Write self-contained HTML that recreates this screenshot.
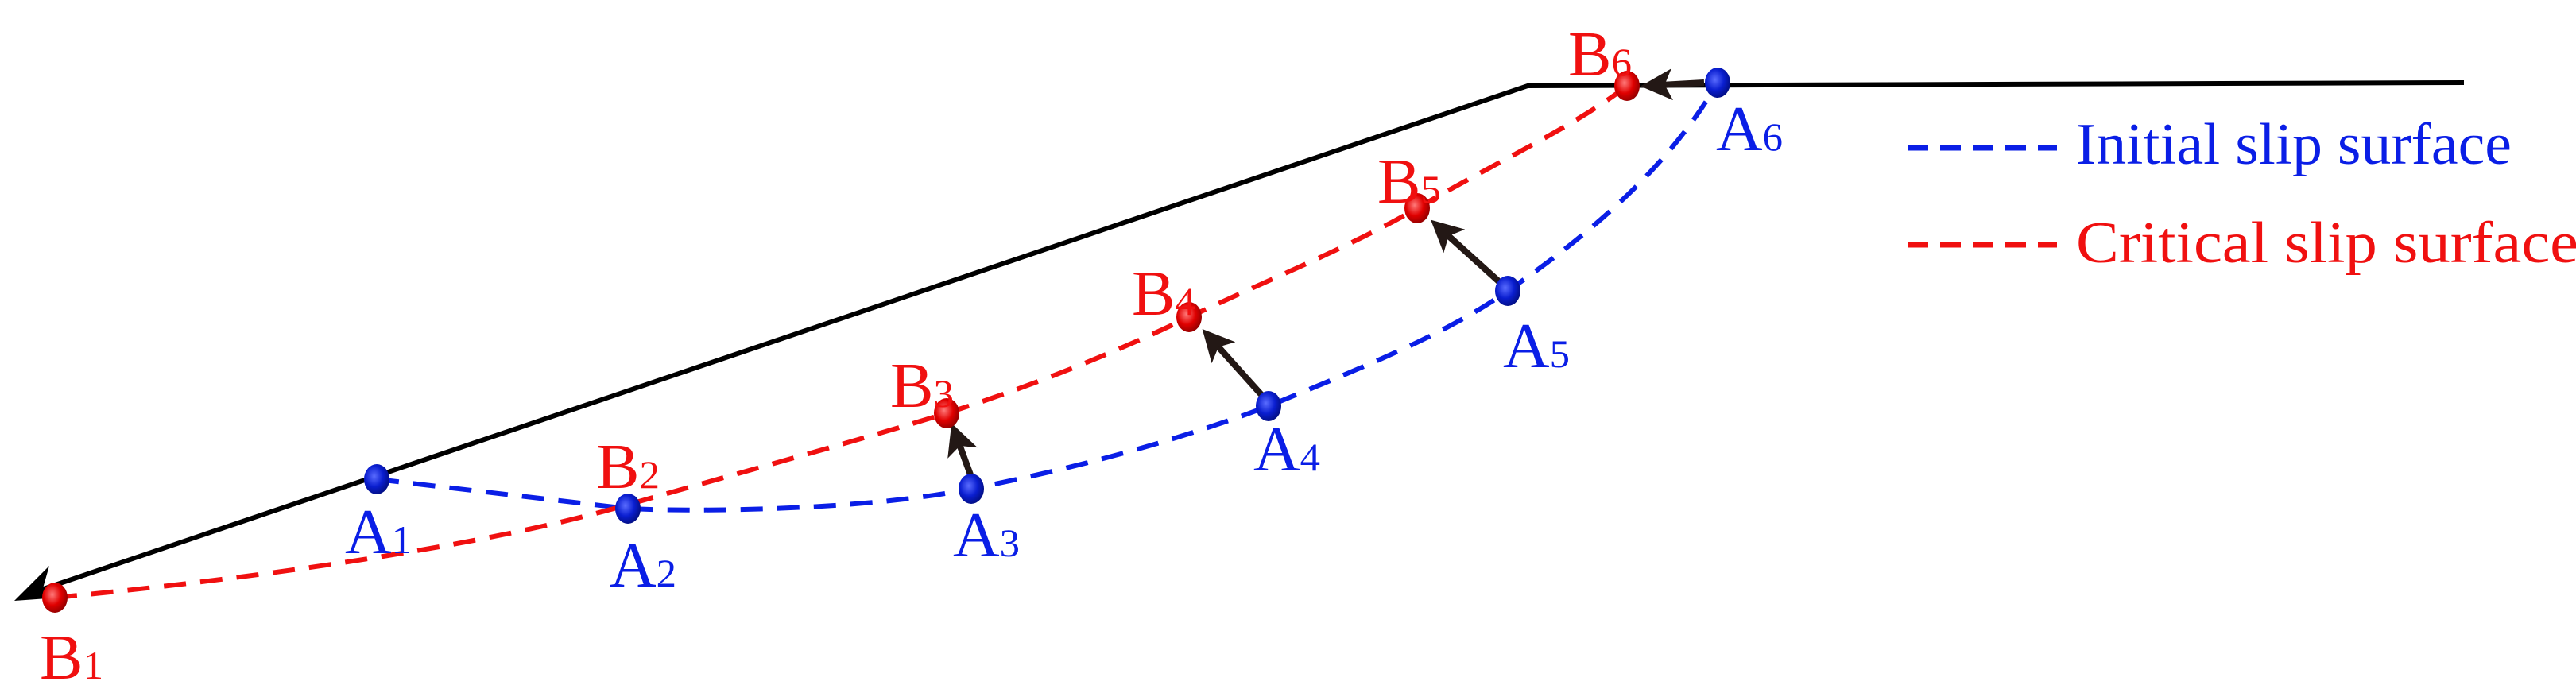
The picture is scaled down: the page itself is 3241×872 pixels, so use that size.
<!DOCTYPE html>
<html><head><meta charset="utf-8"><style>
html,body{margin:0;padding:0;background:#fff;}
svg{display:block}
text{font-family:"Liberation Serif","Times New Roman",serif;}
</style></head><body>
<svg width="3241" height="872" viewBox="0 0 3241 872" xmlns="http://www.w3.org/2000/svg">
<defs>
<marker id="ah" markerWidth="5" markerHeight="5" refX="4" refY="2.5" orient="auto" markerUnits="strokeWidth">
<path d="M0,0 L5,2.5 L0,5 L1.2,2.5 z" fill="#231815"/>
</marker>
<radialGradient id="gb" cx="0.4" cy="0.4" r="0.7"><stop offset="0" stop-color="#5a6cff"/><stop offset="0.5" stop-color="#0a1ed0"/><stop offset="1" stop-color="#000a70"/></radialGradient>
<radialGradient id="gr" cx="0.4" cy="0.4" r="0.7"><stop offset="0" stop-color="#ff7a7a"/><stop offset="0.5" stop-color="#e00000"/><stop offset="1" stop-color="#800000"/></radialGradient>
</defs>
<polyline points="3100,104 1922,108 40,746" fill="none" stroke="#000" stroke-width="6"/>
<path d="M18,756 L62,712 L54,740 L74,752 z" fill="#000"/>
<path d="M474,603 L790,640 C900,645 1100,640 1222,615 C1350,590 1480,555 1596,511 C1720,460 1820,420 1897,366 C2000,295 2100,210 2161,104" fill="none" stroke="#0a1ee6" stroke-width="6" stroke-dasharray="28,18"/>
<path d="M69,752 C300,730 600,690 790,635 C930,595 1060,560 1191,520 C1300,485 1400,445 1496,399 C1600,350 1700,310 1783,262 C1880,205 1980,160 2047,108" fill="none" stroke="#f01010" stroke-width="6" stroke-dasharray="28,18"/>
<g stroke="#231815" stroke-width="8" fill="none" marker-end="url(#ah)">
<line x1="1222" y1="600" x2="1200" y2="540"/>
<line x1="1590" y1="500" x2="1518" y2="420"/>
<line x1="1890" y1="358" x2="1806" y2="282"/>
<line x1="2144" y1="104" x2="2072" y2="108"/>
</g>
<g fill="url(#gb)">
<ellipse cx="474" cy="603" rx="16" ry="19"/>
<ellipse cx="790" cy="640" rx="16" ry="19"/>
<ellipse cx="1222" cy="615" rx="16" ry="19"/>
<ellipse cx="1596" cy="511" rx="16" ry="19"/>
<ellipse cx="1897" cy="366" rx="16" ry="19"/>
<ellipse cx="2161" cy="104" rx="16" ry="19"/>
</g>
<g fill="url(#gr)">
<ellipse cx="69" cy="752" rx="16" ry="19"/>
<ellipse cx="790" cy="636" rx="0" ry="0"/>
<ellipse cx="1191" cy="520" rx="16" ry="19"/>
<ellipse cx="1496" cy="399" rx="16" ry="19"/>
<ellipse cx="1783" cy="262" rx="16" ry="19"/>
<ellipse cx="2047" cy="108" rx="16" ry="19"/>
</g>
<g fill="#0a1ee6" font-size="80">
<text x="434" y="696" textLength="84" lengthAdjust="spacingAndGlyphs">A<tspan font-size="50">1</tspan></text>
<text x="767" y="738" textLength="84" lengthAdjust="spacingAndGlyphs">A<tspan font-size="50">2</tspan></text>
<text x="1199" y="700" textLength="84" lengthAdjust="spacingAndGlyphs">A<tspan font-size="50">3</tspan></text>
<text x="1577" y="592" textLength="84" lengthAdjust="spacingAndGlyphs">A<tspan font-size="50">4</tspan></text>
<text x="1891" y="462" textLength="84" lengthAdjust="spacingAndGlyphs">A<tspan font-size="50">5</tspan></text>
<text x="2159" y="189" textLength="84" lengthAdjust="spacingAndGlyphs">A<tspan font-size="50">6</tspan></text>
</g>
<g fill="#f01010" font-size="80">
<text x="50" y="854" textLength="80" lengthAdjust="spacingAndGlyphs">B<tspan font-size="50">1</tspan></text>
<text x="750" y="614" textLength="80" lengthAdjust="spacingAndGlyphs">B<tspan font-size="50">2</tspan></text>
<text x="1120" y="512" textLength="80" lengthAdjust="spacingAndGlyphs">B<tspan font-size="50">3</tspan></text>
<text x="1424" y="396" textLength="80" lengthAdjust="spacingAndGlyphs">B<tspan font-size="50">4</tspan></text>
<text x="1733" y="255" textLength="80" lengthAdjust="spacingAndGlyphs">B<tspan font-size="50">5</tspan></text>
<text x="1973" y="95" textLength="80" lengthAdjust="spacingAndGlyphs">B<tspan font-size="50">6</tspan></text>
</g>
<line x1="2400" y1="186" x2="2588" y2="186" stroke="#0a1ee6" stroke-width="7" stroke-dasharray="26,15"/>
<text x="2612" y="206" font-size="74" fill="#0a1ee6" textLength="548" lengthAdjust="spacingAndGlyphs">Initial slip surface</text>
<line x1="2400" y1="308" x2="2588" y2="308" stroke="#f01010" stroke-width="7" stroke-dasharray="26,15"/>
<text x="2612" y="330" font-size="74" fill="#f01010" textLength="632" lengthAdjust="spacingAndGlyphs">Critical slip surface</text>
</svg>
</body></html>
